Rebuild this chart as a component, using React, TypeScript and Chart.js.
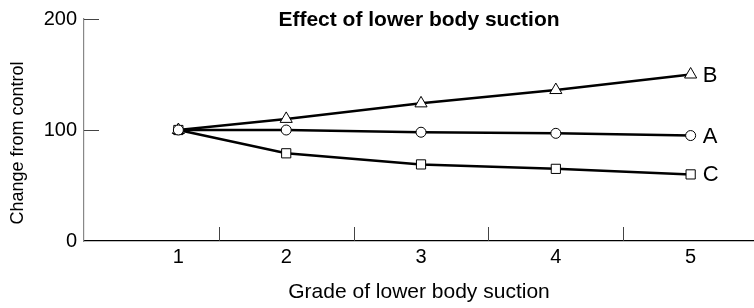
import React, { useEffect, useRef } from 'react';
import { Chart, registerables } from 'chart.js';

Chart.register(...registerables);

const chartTitle = 'Effect of lower body suction';
const xTitle = 'Grade of lower body suction';
const yTitle = 'Change from control';
const grades = ['1', '2', '3', '4', '5'];
const gradePositions = [1.2, 2, 3, 4, 5];
const seriesNames = ['A', 'B', 'C'];
const seriesA = [100, 100, 98, 97, 95];
const seriesB = [100, 110, 124, 136, 150];
const seriesC = [100, 79, 69, 65, 60];
const yTicks = [0, 100, 200];
const xTickMarks = [1.5, 2.5, 3.5, 4.5];
const pointStyles = ['circle', 'triangle', 'rect'];
const pointSizes = [5, 7, 6.5];

const FONT = '"Liberation Sans", Arial, Helvetica, sans-serif';

const decorPlugin = {
  id: 'decor',
  afterDraw(chart: any) {
    const { ctx, chartArea, scales } = chart;
    const x = scales.x;
    const y = scales.y;
    ctx.save();
    ctx.strokeStyle = '#444';
    ctx.lineWidth = 1;
    xTickMarks.forEach((v) => {
      const px = Math.round(x.getPixelForValue(v)) + 0.5;
      ctx.beginPath();
      ctx.moveTo(px, chartArea.bottom);
      ctx.lineTo(px, chartArea.bottom - 14);
      ctx.stroke();
    });
    yTicks.filter((v) => v > 0).forEach((v) => {
      const py = Math.round(y.getPixelForValue(v)) + 0.5;
      ctx.beginPath();
      ctx.moveTo(chartArea.left, py);
      ctx.lineTo(chartArea.left + 15, py);
      ctx.stroke();
    });
    ctx.fillStyle = '#000';
    ctx.font = `22px ${FONT}`;
    ctx.textBaseline = 'middle';
    ctx.textAlign = 'left';
    chart.data.datasets.forEach((ds: any, i: number) => {
      const meta = chart.getDatasetMeta(i);
      const pt = meta.data[meta.data.length - 1];
      ctx.fillText(ds.label, pt.x + 12, pt.y + 1);
    });
    ctx.font = `bold 21px ${FONT}`;
    ctx.textAlign = 'center';
    ctx.textBaseline = 'alphabetic';
    ctx.fillText(chartTitle, (chartArea.left + chartArea.right) / 2, 26);
    ctx.save();
    ctx.translate(18, 143);
    ctx.rotate(-Math.PI / 2);
    ctx.font = `18px ${FONT}`;
    ctx.textBaseline = 'middle';
    ctx.fillText(yTitle, 0, 0);
    ctx.restore();
    ctx.restore();
  },
};

export default function App() {
  const ref = useRef<HTMLCanvasElement>(null);
  useEffect(() => {
    if (!ref.current) return;
    const all = [seriesA, seriesB, seriesC];
    const chart = new Chart(ref.current, {
      type: 'line',
      data: {
        datasets: all.map((s, i) => ({
          label: seriesNames[i],
          data: s.map((v, j) => ({ x: gradePositions[j], y: v })),
          borderColor: '#000',
          borderWidth: 2.5,
          pointStyle: pointStyles[i] as any,
          pointRadius: pointSizes[i],
          pointBackgroundColor: '#fff',
          pointBorderColor: '#000',
          pointBorderWidth: 1,
          tension: 0,
        })),
      },
      options: {
        responsive: false,
        animation: false,
        events: [],
        layout: { autoPadding: false, padding: { top: 16, left: 0, right: 0, bottom: 0 } },
        plugins: {
          legend: { display: false },
          tooltip: { enabled: false },
          title: { display: false },
        },
        scales: {
          x: {
            type: 'linear',
            min: 0.5,
            max: 5.47,
            afterBuildTicks: (scale: any) => {
              scale.ticks = gradePositions.map((v) => ({ value: v }));
            },
            afterFit: (scale: any) => {
              scale.height = 67;
              scale.paddingLeft = 0;
              scale.paddingRight = 0;
            },
            grid: { display: false, drawTicks: false },
            border: { display: true, color: '#000', width: 1.2 },
            ticks: {
              autoSkip: false,
              maxRotation: 0,
              padding: 4,
              color: '#000',
              font: { family: FONT, size: 20 },
              callback: (_v: any, i: number) => grades[i],
            },
            title: {
              display: true,
              text: xTitle,
              color: '#000',
              font: { family: FONT, size: 21 },
              padding: { top: 0, bottom: 3 },
            },
          },
          y: {
            type: 'linear',
            min: 0,
            max: 200,
            afterBuildTicks: (scale: any) => {
              scale.ticks = yTicks.map((v) => ({ value: v }));
            },
            afterFit: (scale: any) => {
              scale.width = 84;
            },
            grid: { display: false, drawTicks: false },
            border: { display: true, color: '#888', width: 1.2 },
            ticks: {
              padding: 7,
              color: '#000',
              font: { family: FONT, size: 20 },
            },
            title: { display: false },
          },
        },
      },
      plugins: [decorPlugin],
    });
    return () => chart.destroy();
  }, []);
  return (
    <div style={{ position: 'fixed', left: 0, top: 0, width: 754, height: 308, background: '#fff' }}>
      <canvas ref={ref} width={754} height={308} style={{ display: 'block' }} />
    </div>
  );
}
